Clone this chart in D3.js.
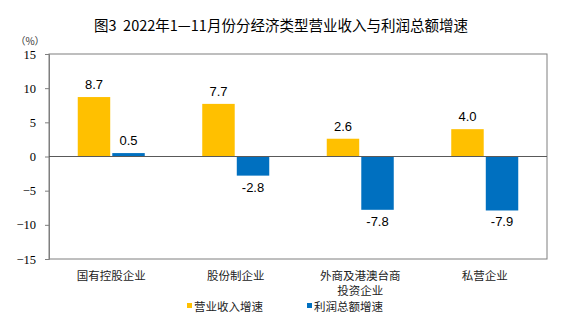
<!DOCTYPE html>
<html>
<head>
<meta charset="utf-8">
<script src="https://cdn.jsdelivr.net/npm/d3@7"></script>
<style>
  body { margin: 0; background: #fff; }
  svg { display: block; }
</style>
</head>
<body>
<div id="chart"></div>
<script>
var w = 580;
var h = 335;

var categories = ["国有控股企业", "股份制企业", "外商及港澳台商投资企业", "私营企业"];
var categoryLines = [["国有控股企业"], ["股份制企业"], ["外商及港澳台商", "投资企业"], ["私营企业"]];
var seriesNames = ["营业收入增速", "利润总额增速"];
var revenueGrowth = [8.7, 7.7, 2.6, 4.0];
var profitGrowth = [0.5, -2.8, -7.8, -7.9];
var yTicks = [-15, -10, -5, 0, 5, 10, 15];
var colors = ["#FFC000", "#0070C0"];

var cjk = "'Noto Sans CJK SC', sans-serif";
var plotLeft = 49, plotRight = 547, plotTop = 54, plotBottom = 259;

var svg = d3.select("#chart")
  .append("svg")
  .attr("width", w)
  .attr("height", h);

svg.append("text")
  .attr("x", 281)
  .attr("y", 31)
  .attr("text-anchor", "middle")
  .style("font-family", cjk)
  .style("font-size", "14.5px")
  .attr("fill", "#000")
  .text("图3\u00a0\u00a02022年1—11月份分经济类型营业收入与利润总额增速");

var xScale = d3.scaleBand()
  .domain(d3.range(categories.length))
  .range([plotLeft, plotRight]);

var yScale = d3.scaleLinear()
  .domain([-15, 15])
  .range([plotBottom, plotTop]);

var xInner = d3.scaleBand()
  .domain([0, 1])
  .range([0, 67])
  .paddingInner(0.06);

// frame
svg.append("rect")
  .attr("x", plotLeft)
  .attr("y", plotTop)
  .attr("width", plotRight - plotLeft)
  .attr("height", plotBottom - plotTop)
  .attr("fill", "none")
  .attr("stroke", "#7f7f7f")
  .attr("stroke-width", 1);

// y axis
var yAxis = d3.axisLeft(yScale)
  .tickValues(yTicks)
  .tickSize(4)
  .tickPadding(9);

var gy = svg.append("g")
  .attr("transform", "translate(" + plotLeft + ",0)")
  .call(yAxis);
gy.select(".domain").attr("stroke", "#7f7f7f");
gy.selectAll(".tick line").attr("stroke", "#7f7f7f");
gy.selectAll(".tick text")
  .style("font-family", "'Liberation Serif', serif")
  .style("font-size", "12.5px")
  .attr("fill", "#000");

svg.append("text")
  .attr("x", 30)
  .attr("y", 45)
  .attr("text-anchor", "middle")
  .style("font-family", "'Noto Sans CJK SC', serif")
  .style("font-size", "10px")
  .attr("fill", "#333")
  .text("（%）");

var series = [revenueGrowth, profitGrowth];
var groupOffset = (xScale.bandwidth() - 67) / 2;

series.forEach(function(values, s) {
  svg.selectAll(".bar" + s)
    .data(values)
    .enter()
    .append("rect")
    .attr("class", "bar" + s)
    .attr("x", function(d, i) { return xScale(i) + groupOffset + xInner(s); })
    .attr("y", function(d) { return yScale(Math.max(0, d)); })
    .attr("width", xInner.bandwidth())
    .attr("height", function(d) { return Math.abs(yScale(d) - yScale(0)); })
    .attr("fill", colors[s]);

  svg.selectAll(".label" + s)
    .data(values)
    .enter()
    .append("text")
    .attr("class", "label" + s)
    .attr("x", function(d, i) { return xScale(i) + groupOffset + xInner(s) + xInner.bandwidth() / 2; })
    .attr("y", function(d) { return d >= 0 ? yScale(d) - 8 : yScale(d) + 16; })
    .attr("text-anchor", "middle")
    .style("font-family", "'Liberation Sans', Arial, sans-serif")
    .style("font-size", "13px")
    .attr("fill", "#000")
    .text(function(d) { return d.toFixed(1); });
});

// zero line
svg.append("line")
  .attr("x1", plotLeft)
  .attr("x2", plotRight)
  .attr("y1", yScale(0))
  .attr("y2", yScale(0))
  .attr("stroke", "#595959")
  .attr("stroke-width", 1);

// category labels
categoryLines.forEach(function(lines, i) {
  var t = svg.append("text")
    .attr("text-anchor", "middle")
    .style("font-family", cjk)
    .style("font-size", "11.5px")
    .attr("fill", "#222");
  lines.forEach(function(line, k) {
    t.append("tspan")
      .attr("x", xScale(i) + xScale.bandwidth() / 2)
      .attr("y", 280 + k * 14.5)
      .text(line);
  });
});

// legend
var legendX = [187, 307];
seriesNames.forEach(function(name, s) {
  svg.append("rect")
    .attr("x", legendX[s])
    .attr("y", 303)
    .attr("width", 5)
    .attr("height", 5)
    .attr("fill", colors[s]);
  svg.append("text")
    .attr("x", legendX[s] + 7)
    .attr("y", 310.5)
    .style("font-family", cjk)
    .style("font-size", "11.5px")
    .attr("fill", "#222")
    .text(name);
});
</script>
</body>
</html>
